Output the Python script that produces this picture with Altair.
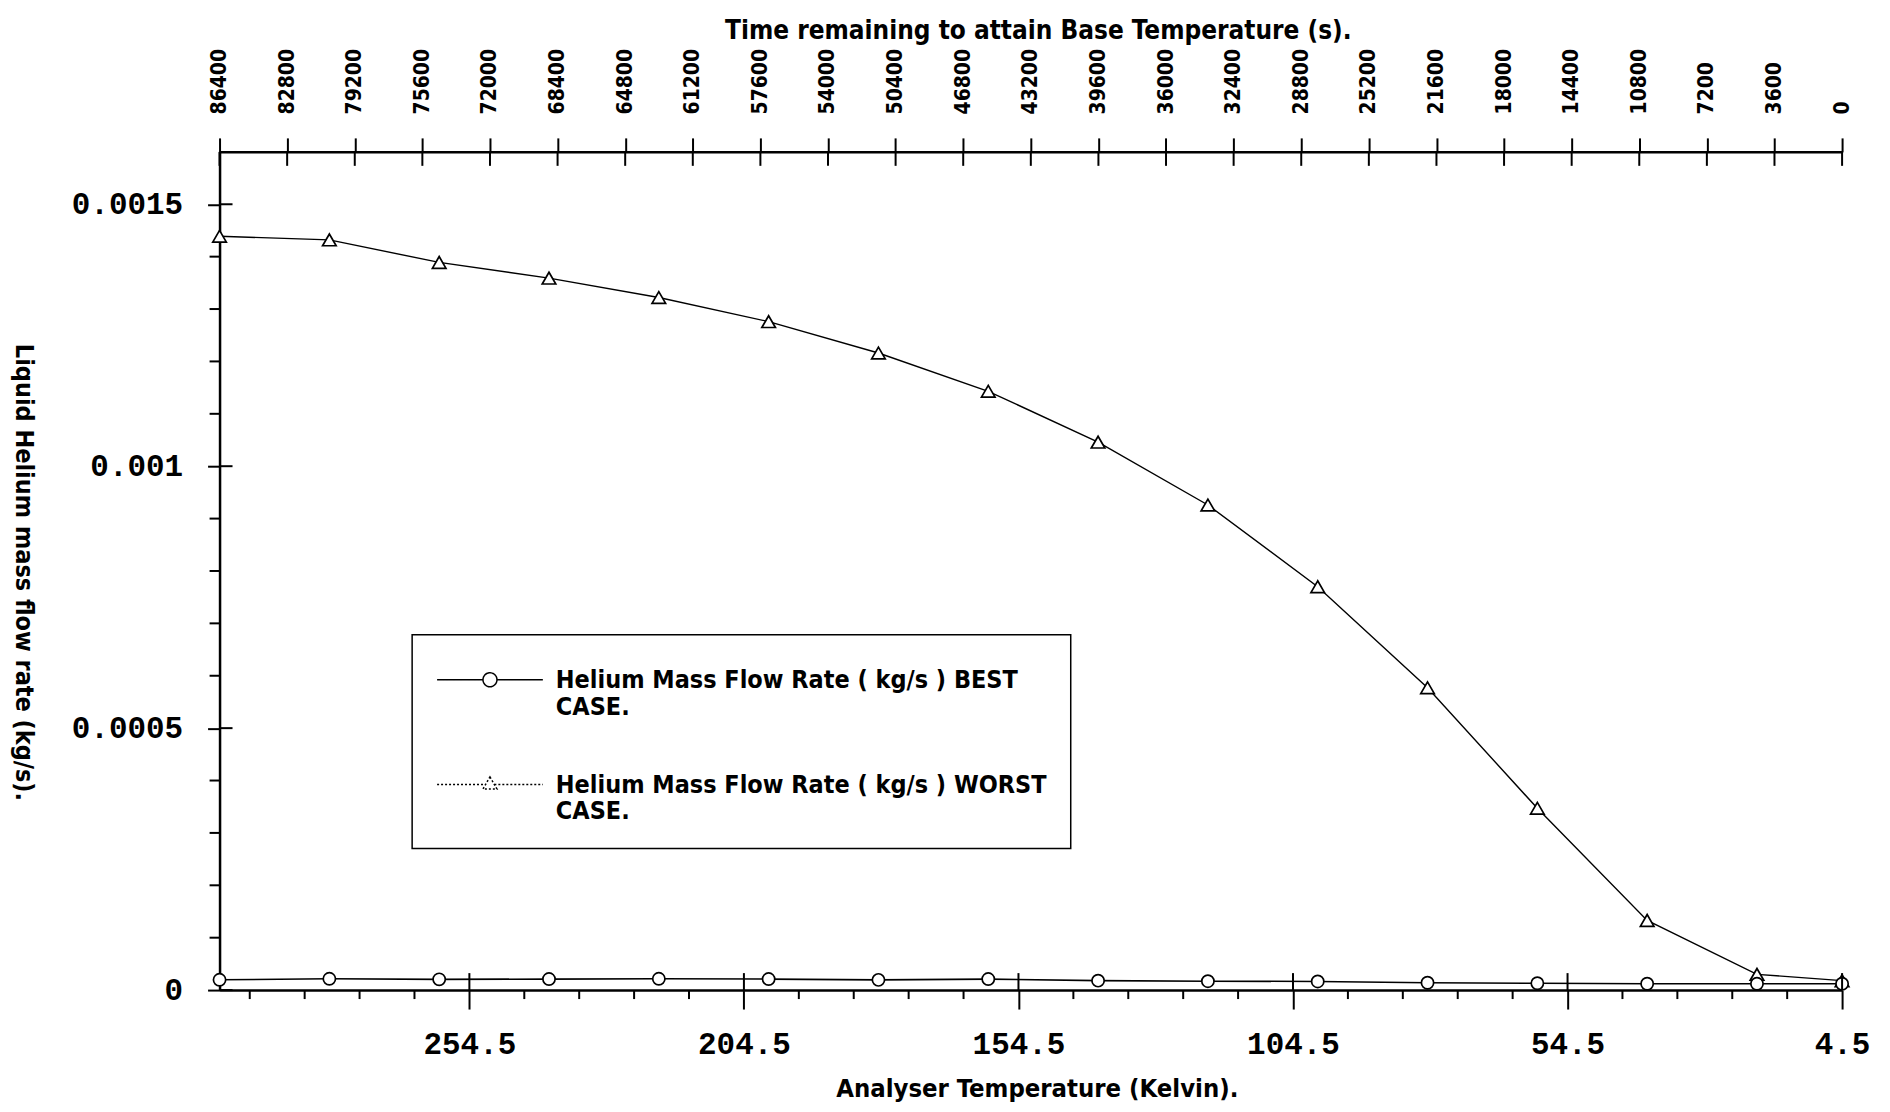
import altair as alt
import pandas as pd

# ---------------- data ----------------
temperature = [300, 280, 260, 240, 220, 200, 180, 160, 140, 120, 100, 80, 60, 40, 20, 4.5]
worst_case = [0.001439, 0.001432, 0.001389, 0.001359, 0.001322, 0.001276, 0.001216, 0.001143,
              0.001046, 0.000926, 0.000770, 0.000577, 0.000347, 0.000133, 0.000030, 0.000018]
best_case = [0.0000196, 0.0000215, 0.0000205, 0.0000210, 0.0000215, 0.0000210, 0.0000195, 0.0000210,
             0.0000180, 0.0000170, 0.0000165, 0.0000140, 0.0000130, 0.0000120, 0.0000120, 0.0000120]

temp_major = [254.5, 204.5, 154.5, 104.5, 54.5, 4.5]
temp_minor = [294.5, 284.5, 274.5, 264.5, 244.5, 234.5, 224.5, 214.5, 194.5, 184.5, 174.5, 164.5,
              144.5, 134.5, 124.5, 114.5, 94.5, 84.5, 74.5, 64.5, 44.5, 34.5, 24.5, 14.5]
time_ticks = [86400, 82800, 79200, 75600, 72000, 68400, 64800, 61200, 57600, 54000, 50400, 46800,
              43200, 39600, 36000, 32400, 28800, 25200, 21600, 18000, 14400, 10800, 7200, 3600, 0]
flow_major = [0, 0.0005, 0.001, 0.0015]
flow_minor = [0.0001, 0.0002, 0.0003, 0.0004, 0.0006, 0.0007, 0.0008, 0.0009,
              0.0011, 0.0012, 0.0013, 0.0014]
series = ["Helium Mass Flow Rate ( kg/s ) BEST|CASE.",
          "Helium Mass Flow Rate ( kg/s ) WORST|CASE."]

# ---------------- layout / style ----------------
W, H = 1626, 840
SANS = "DejaVu Sans Condensed"
MONO = "Liberation Mono"

x_scale = alt.Scale(domain=[300, 4.5], nice=False, zero=False)
y_scale = alt.Scale(domain=[0, 0.0016], nice=False, zero=False)
t_scale = alt.Scale(domain=[86400, 0], nice=False, zero=False)

bottom_axis = alt.Axis(
    orient="bottom", values=temp_major, format=".1f", grid=False,
    domainColor="black", domainWidth=2.5, tickColor="black", tickWidth=2, tickSize=19,
    labelFont=MONO, labelFontWeight="bold", labelFontSize=31, labelColor="black",
    labelPadding=21, labelBaseline="top", labelFlush=False, labelOverlap=False,
    title="Analyser Temperature (Kelvin).", titleFont=SANS, titleFontWeight="bold",
    titleFontSize=25.5, titleColor="black", titleX=819, titleY=99,
    titleAlign="center", titleBaseline="middle", titleAngle=0,
)
left_axis = alt.Axis(
    orient="left", values=flow_major, format="~g", grid=False,
    domainColor="black", domainWidth=2.5, tickColor="black", tickWidth=2, tickSize=12,
    labelFont=MONO, labelFontWeight="bold", labelFontSize=31, labelColor="black",
    labelPadding=25, labelFlush=False, labelOverlap=False,
    title="Liquid Helium mass flow rate (kg/s).", titleFont=SANS, titleFontWeight="bold",
    titleFontSize=25, titleColor="black", titleAngle=90, titleX=-196, titleY=421,
    titleAlign="center", titleBaseline="middle",
)
top_axis = alt.Axis(
    orient="top", values=time_ticks, format="d", grid=False,
    domainColor="black", domainWidth=2.5, tickColor="black", tickWidth=2, tickSize=14,
    labelFont=SANS, labelFontWeight="bold", labelFontSize=21, labelColor="black",
    labelAngle=270, labelAlign="left", labelBaseline="middle", labelPadding=24,
    labelFlush=False, labelOverlap=False,
    title="Time remaining to attain Base Temperature (s).", titleFont=SANS,
    titleFontWeight="bold", titleFontSize=26, titleColor="black", titleX=820, titleY=-122,
    titleAlign="center", titleBaseline="middle", titleAngle=0,
)

y_enc = alt.Y("flow:Q", scale=y_scale, axis=left_axis)

df_worst = pd.DataFrame({"T": temperature, "flow": worst_case})
df_best = pd.DataFrame({"T": temperature, "flow": best_case})

worst_line = alt.Chart(df_worst).mark_line(color="black", strokeWidth=1.4).encode(
    x=alt.X("T:Q", scale=x_scale, axis=bottom_axis), y=y_enc)
worst_pts = alt.Chart(df_worst).mark_point(
    shape="triangle-up", size=185, filled=True, fill="white", stroke="black",
    strokeWidth=1.7, opacity=1).encode(
    x=alt.X("T:Q", scale=x_scale, axis=None), y=y_enc)
best_line = alt.Chart(df_best).mark_line(color="black", strokeWidth=1.6).encode(
    x=alt.X("T:Q", scale=x_scale, axis=None), y=y_enc)
best_pts = alt.Chart(df_best).mark_point(
    shape="circle", size=150, filled=True, fill="white", stroke="black",
    strokeWidth=1.7, opacity=1).encode(
    x=alt.X("T:Q", scale=x_scale, axis=None), y=y_enc)

# tick pieces that the axes cannot draw (inward halves and minor ticks)
x_major_in = alt.Chart(pd.DataFrame({"T": temp_major})).mark_rule(color="black", strokeWidth=2).encode(
    x=alt.X("T:Q", scale=x_scale, axis=None), y=alt.value(H - 17), y2=alt.value(H))
x_minor = alt.Chart(pd.DataFrame({"T": temp_minor})).mark_rule(color="black", strokeWidth=2).encode(
    x=alt.X("T:Q", scale=x_scale, axis=None), y=alt.value(H), y2=alt.value(H + 9))
y_major_in = alt.Chart(pd.DataFrame({"flow": flow_major})).mark_rule(color="black", strokeWidth=2).encode(
    y=y_enc, x=alt.value(0), x2=alt.value(13))
y_minor = alt.Chart(pd.DataFrame({"flow": flow_minor})).mark_rule(color="black", strokeWidth=2).encode(
    y=y_enc, x=alt.value(-10), x2=alt.value(0))
top_ticks = alt.Chart(pd.DataFrame({"t": time_ticks})).mark_rule(color="black", strokeWidth=2).encode(
    x=alt.X("t:Q", scale=t_scale, axis=top_axis), y=alt.value(0), y2=alt.value(14))

# legend: line-with-marker symbols as custom paths (unit = 20 px)
path_best = "M-1,0L1.3,0M2.0,0L4.3,0M2.0,0A0.35,0.35,0,1,1,1.3,0A0.35,0.35,0,1,1,2.0,0Z"
path_worst = "M-1,0L1.43,0M1.87,0L4.3,0M1.65,-0.38L2.0,0.22L1.3,0.22Z"
legend = alt.Legend(
    title=None, orient="none", legendX=193, legendY=484, padding=24,
    strokeColor="black", rowPadding=44, labelOffset=78,
    labelFont=SANS, labelFontWeight="bold", labelFontSize=25, labelColor="black",
    labelLimit=900, labelExpr="split(datum.label, '|')",
    symbolSize=1600, symbolStrokeColor="black", symbolFillColor="white",
    symbolStrokeWidth=1.5, symbolOpacity=1,
)
legend_layer = alt.Chart(pd.DataFrame({"series": series})).mark_point(opacity=0).encode(
    shape=alt.Shape("series:N", scale=alt.Scale(domain=series, range=[path_best, path_worst]),
                    legend=legend),
    strokeDash=alt.StrokeDash("series:N", scale=alt.Scale(domain=series, range=[[1, 0], [2, 2]]),
                              legend=legend),
)

chart = alt.layer(
    worst_line, best_line, worst_pts, best_pts,
    x_major_in, x_minor, y_major_in, y_minor, top_ticks, legend_layer,
).resolve_scale(x="independent").properties(
    width=W, height=H,
    autosize=alt.AutoSizeParams(type="none"),
    padding={"left": 212, "top": 143, "right": 40, "bottom": 119},
    background="white",
).configure_view(stroke=None).configure_legend(strokeWidth=1.5)

chart.save("out.html", embed_options={"renderer": "svg", "actions": False})
